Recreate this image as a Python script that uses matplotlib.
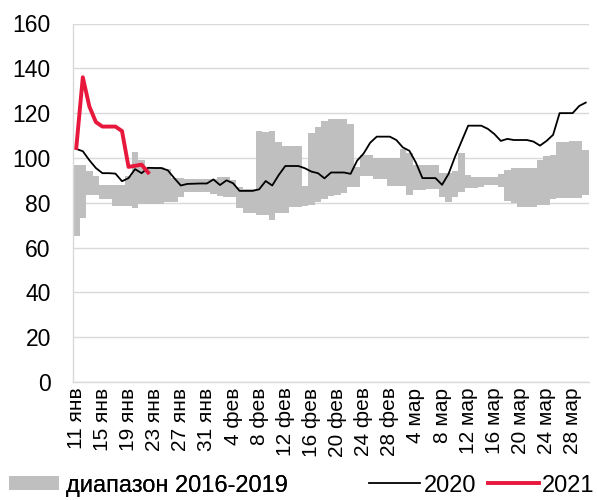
import numpy as np
import pandas as pd
import matplotlib
matplotlib.use('Agg')
import matplotlib.pyplot as plt
from matplotlib.patches import Patch
from matplotlib.lines import Line2D

# Данные: дни с 11 янв по 30 мар
dates = pd.date_range('2021-01-11', '2021-03-30', freq='D')

# Диапазон 2016-2019 (min / max)
range_lo = [65, 73, 83.5, 83.5, 81.5, 81.5, 78.5, 78.5, 78.5, 77.5,
            79.5, 79.5, 79.5, 79.5, 80.5, 80.5, 82.5, 85, 85, 85,
            85, 84, 83, 82.5, 82.5, 77.5, 75.5, 75.5, 74.5, 74.5,
            72.5, 75.5, 75.5, 78, 78, 78.5, 79, 80.5, 81.5, 83,
            83.5, 84.5, 87, 87, 92, 92, 90.5, 90.5, 87.5, 87.5,
            87.5, 83.5, 85.5, 85.5, 86, 86, 82.5, 80.5, 82.5, 85,
            86.5, 86.5, 87, 88, 88, 87, 81, 80, 78, 78,
            78, 79, 79, 81.5, 82, 82, 82, 82, 83.5]
range_hi = [97, 97, 94, 92, 88, 88, 88, 88, 92, 102.5,
            99, 96, 96, 96, 95, 91, 91, 90.5, 90.5, 90.5,
            90.5, 90.5, 91.5, 91.5, 90, 87, 86, 86, 112, 111.5,
            112, 107, 105.5, 105.5, 105.5, 87.5, 111, 114, 116.5, 117.5,
            117.5, 117.5, 115, 96, 101.5, 101.5, 100, 100, 100, 100,
            104, 102, 97, 97, 97, 97, 93.5, 93.5, 94, 102,
            92.5, 91.5, 91.5, 91.5, 91.5, 93, 94.5, 95.5, 95.5, 95.5,
            95.5, 99, 101, 101.5, 107, 107, 107.5, 107.5, 103.5]

# 2020
y2020 = [104, 103, 99, 95.5, 93.2, 93.2, 93, 89.6, 91, 95,
         93.2, 95.6, 95.5, 95.5, 94.5, 91, 87.7, 88.4, 88.5, 88.6,
         88.6, 90.4, 87.9, 90, 88.7, 85.3, 85.3, 85.3, 86, 89.7,
         87.7, 92.4, 96.4, 96.4, 96.4, 95.4, 93.9, 93.2, 90.9, 93.5,
         93.5, 93.5, 92.9, 98.8, 102, 106.8, 109.5, 109.5, 109.5, 108,
         104.7, 103.2, 97.9, 91, 91, 91, 88, 92.9, 100.6, 107.5,
         114.4, 114.4, 114.4, 113, 110.7, 107.6, 108.5, 108, 108, 108,
         107.3, 105.5, 107.6, 110.3, 120, 120, 120, 123.2, 124.7]

# 2021
y2021 = [104.5, 136, 123, 116, 114, 114, 114, 112, 96, 96.5, 97, 93.5]

tick_labels = ['11 янв', '15 янв', '19 янв', '23 янв', '27 янв', '31 янв',
               '4 фев', '8 фев', '12 фев', '16 фев', '20 фев', '24 фев', '28 фев',
               '4 мар', '8 мар', '12 мар', '16 мар', '20 мар', '24 мар', '28 мар']

plt.rcParams['font.family'] = ['Liberation Sans', 'DejaVu Sans']

x = np.arange(len(dates))
lo = np.array(range_lo)
hi = np.array(range_hi)

fig = plt.figure(figsize=(5.97, 5.0), dpi=100)
ax = fig.add_axes([0.1223, 0.236, 0.8643, 0.717])

ax.bar(x, hi - lo, bottom=lo, width=1.0, color='#bfbfbf', linewidth=0, zorder=2)
ax.plot(x, y2020, color='black', linewidth=1.3, zorder=3)
ax.plot(x[:len(y2021)], y2021, color='#e8173c', linewidth=2.8, zorder=4)

ax.set_xlim(-0.5, len(dates) - 0.5)
ax.set_ylim(0, 160)
ax.set_yticks(np.arange(0, 161, 20))
ax.set_xticks(x[::4])
ax.set_xticklabels(tick_labels, rotation=90)
ax.tick_params(axis='y', length=0, pad=16, labelsize=16.5)
ax.tick_params(axis='x', length=0, pad=4, labelsize=15)
ax.grid(axis='y', color='#d9d9d9', linewidth=1.0, zorder=0)
ax.set_axisbelow(True)
for s in ['top', 'right']:
    ax.spines[s].set_visible(False)
for s in ['left', 'bottom']:
    ax.spines[s].set_color('#d9d9d9')
    ax.spines[s].set_linewidth(1.0)

# Легенда
leg1 = fig.legend(handles=[Patch(facecolor='#bfbfbf', edgecolor='none')],
                  labels=['диапазон 2016-2019'], loc='lower left',
                  bbox_to_anchor=(0.0, -0.012), frameon=False, fontsize=17,
                  borderaxespad=0, handlelength=2.1, handleheight=0.55,
                  handletextpad=0.3)
fig.legend(handles=[Line2D([], [], color='black', linewidth=1.3),
                    Line2D([], [], color='#e8173c', linewidth=2.8)],
           labels=['2020', '2021'], loc='lower left', ncol=2,
           bbox_to_anchor=(0.603, -0.012), frameon=False, fontsize=17,
           borderaxespad=0, handlelength=2.15, handletextpad=0.15,
           columnspacing=0.5)
fig.add_artist(leg1)

fig.savefig('out.png', dpi=100)
